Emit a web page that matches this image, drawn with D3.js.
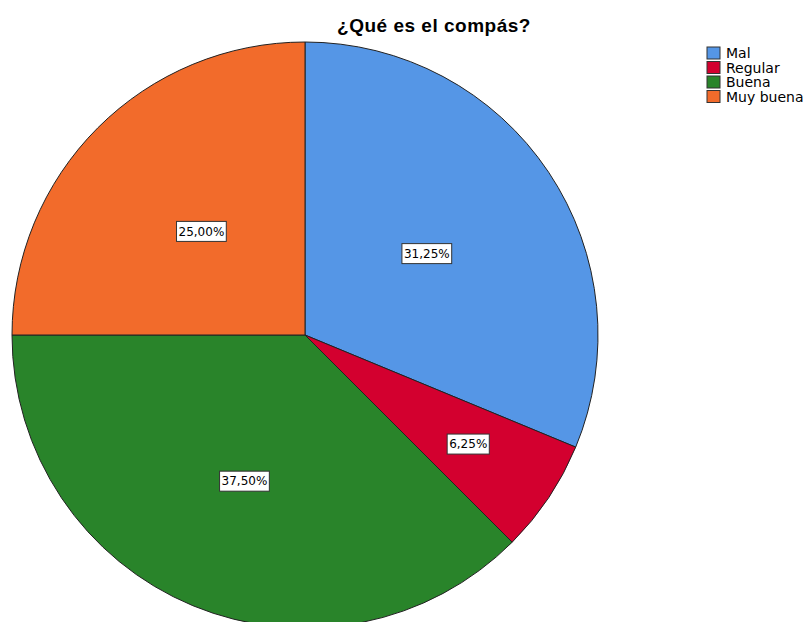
<!DOCTYPE html>
<html>
<head>
<meta charset="utf-8">
<script src="https://cdn.jsdelivr.net/npm/d3@7"></script>
<style>
  body { margin: 0; background: #fff; }
  svg { display: block; }
</style>
</head>
<body>
<div id="chart"></div>
<script>
// data
var categories = ["Mal", "Regular", "Buena", "Muy buena"];
var percents = [31.25, 6.25, 37.5, 25.0];
var colors = ["#5596e6", "#d3002f", "#29842a", "#f26b2b"];

var w = 808, h = 622;
var cx = 305, cy = 335, r = 293;
// how far out each label sits, as a share of the radius
var labelFrac = [0.5, 0.67, 0.54, 0.5];

var svg = d3.select("#chart").append("svg")
    .attr("width", w)
    .attr("height", h);

svg.append("text")
    .attr("x", 434)
    .attr("y", 32)
    .attr("text-anchor", "middle")
    .style("font-family", "Liberation Sans, Arial, sans-serif")
    .style("font-weight", "bold")
    .style("font-size", "19px")
    .style("letter-spacing", "0.5px")
    .text("¿Qué es el compás?");

var pie = d3.pie().sort(null).value(function(d) { return d; });
var arcs = pie(percents);
var arc = d3.arc().innerRadius(0).outerRadius(r);

var g = svg.append("g").attr("transform", "translate(" + cx + "," + cy + ")");

g.selectAll("path")
    .data(arcs)
    .enter()
    .append("path")
    .attr("d", arc)
    .attr("fill", function(d, i) { return colors[i]; })
    .attr("stroke", "#222")
    .attr("stroke-width", 1);

var fmt = function(v) { return v.toFixed(2).replace(".", ",") + "%"; };

var labels = g.selectAll("g.lab")
    .data(arcs)
    .enter()
    .append("g")
    .attr("class", "lab")
    .attr("transform", function(d, i) {
        var a = (d.startAngle + d.endAngle) / 2;
        var rr = r * labelFrac[i];
        return "translate(" + (Math.sin(a) * rr) + "," + (-Math.cos(a) * rr) + ")";
    });

labels.append("text")
    .attr("text-anchor", "middle")
    .attr("dy", "0.35em")
    .style("font-family", "DejaVu Sans, sans-serif")
    .style("font-size", "12px")
    .text(function(d) { return fmt(d.value); })
    .each(function() {
        var b = this.getBBox();
        d3.select(this.parentNode).insert("rect", "text")
            .attr("x", b.x - 2)
            .attr("y", -10)
            .attr("width", b.width + 4)
            .attr("height", 20)
            .attr("fill", "#fff")
            .attr("stroke", "#333")
            .attr("stroke-width", 1);
    });

// legend
var legend = svg.append("g").attr("transform", "translate(707,47)");
var rows = legend.selectAll("g")
    .data(categories)
    .enter()
    .append("g")
    .attr("transform", function(d, i) { return "translate(0," + (i * 14.5) + ")"; });

rows.append("rect")
    .attr("width", 13)
    .attr("height", 12)
    .attr("fill", function(d, i) { return colors[i]; })
    .attr("stroke", "#333")
    .attr("stroke-width", 1);

rows.append("text")
    .attr("x", 19)
    .attr("y", 11)
    .style("font-family", "DejaVu Sans, sans-serif")
    .style("font-size", "14px")
    .text(function(d) { return d; });
</script>
</body>
</html>
